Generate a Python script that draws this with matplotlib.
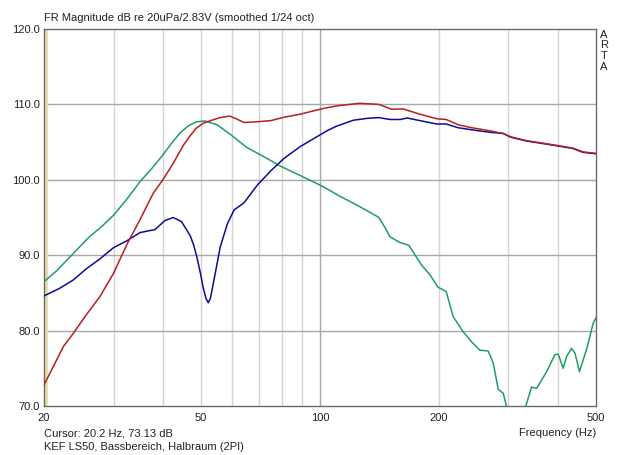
import matplotlib
matplotlib.use('Agg')
import matplotlib.pyplot as plt

plt.rcParams['font.family'] = ['Liberation Sans', 'DejaVu Sans']

# --- data (Hz, dB) ---
freq_green = [20, 21.5, 23.7, 26, 28, 30, 32.5, 35, 37.5, 40, 42, 44.2, 46.5, 48.7,
              51.1, 54.9, 59.7, 65.2, 73.3, 79.5, 91.3, 100, 105, 112, 121.4, 133.7,
              141, 147.4, 150.3, 159, 168, 180.7, 189.9, 199, 208.7, 217.4, 230.4,
              242.1, 254, 266.6, 274.6, 282.8, 291, 297, 312, 328, 333.4, 343.4,
              353.7, 375, 393.3, 401, 412.9, 421, 433.6, 442.5, 454, 474, 492, 500]
db_green = [86.5, 87.9, 90.2, 92.4, 93.8, 95.3, 97.5, 99.75, 101.5, 103.3, 104.8,
            106.2, 107.2, 107.7, 107.8, 107.3, 105.9, 104.3, 102.85, 101.8, 100.3,
            99.3, 98.7, 97.85, 96.9, 95.7, 95.0, 93.3, 92.45, 91.7, 91.3, 88.7, 87.4,
            85.75, 85.2, 81.85, 79.85, 78.5, 77.4, 77.3, 75.7, 72.2, 71.7, 69.9, 66.0,
            69.0, 70.3, 72.5, 72.35, 74.55, 76.8, 76.9, 75.0, 76.55, 77.65, 77.0,
            74.55, 77.65, 81.0, 81.7]

freq_blue = [20, 21.9, 23.7, 25.6, 27.7, 30, 32.4, 35, 38.2, 40.5, 42.5, 44.6, 46.9,
             47.9, 48.8, 49.8, 50.6, 51.4, 52.1, 52.8, 53.7, 55.9, 58.3, 60.6, 64.2,
             69.4, 75.1, 81.1, 89.1, 98.1, 105, 110, 121.4, 131.7, 141, 150.3, 159.8,
             166.2, 179.1, 197.5, 208.7, 224, 244.5, 269, 291, 304, 333, 367.5, 404.7,
             437, 463, 500]
db_blue = [84.6, 85.6, 86.7, 88.2, 89.5, 91.0, 91.9, 93.0, 93.4, 94.6, 95.0, 94.45,
           92.6, 91.3, 89.7, 87.6, 85.7, 84.3, 83.7, 84.3, 86.3, 91.1, 94.2, 96.0,
           96.95, 99.3, 101.2, 102.85, 104.4, 105.7, 106.6, 107.1, 107.9, 108.15,
           108.25, 108.0, 108.0, 108.2, 107.85, 107.4, 107.4, 106.9, 106.6, 106.3,
           106.15, 105.65, 105.15, 104.8, 104.45, 104.15, 103.65, 103.45]

freq_red = [20, 21.1, 22.4, 23.7, 25.6, 27.7, 30, 31.5, 32.7, 35, 37.8, 40, 42.5,
            45.1, 47, 48.5, 50.6, 53.2, 55.9, 59.1, 61, 64.2, 69.4, 75.1, 81.1, 89.1,
            98.1, 105, 112, 126.2, 141, 152, 162.3, 179, 197.5, 208.7, 224, 239.7,
            269.2, 291, 304, 333, 367.5, 404.7, 437, 463, 500]
db_red = [72.8, 75.2, 77.9, 79.6, 82.1, 84.5, 87.6, 90.0, 91.8, 94.7, 98.2, 100.0,
          102.2, 104.6, 105.9, 106.8, 107.5, 107.9, 108.25, 108.45, 108.15, 107.6,
          107.7, 107.85, 108.3, 108.7, 109.25, 109.6, 109.85, 110.15, 110.0, 109.35,
          109.4, 108.7, 108.1, 108.0, 107.3, 106.95, 106.5, 106.15, 105.7, 105.2,
          104.85, 104.5, 104.2, 103.7, 103.5]

x_ticks = [20, 50, 100, 200, 500]
x_grid = [30, 40, 50, 60, 70, 80, 90, 200, 300, 400]
y_ticks = [70, 80, 90, 100, 110, 120]

W, H = 640, 455
fig = plt.figure(figsize=(W / 100, H / 100), dpi=100)
ax = fig.add_axes([44 / W, 1 - 406 / H, (596 - 44) / W, (406 - 29) / H])
ax.set_xscale('log')
ax.set_xlim(20, 500)
ax.set_ylim(70, 120)

# grid
for f in x_grid:
    ax.axvline(f, color='#d4d4d4', lw=1.0, zorder=0)
ax.axvline(100, color='#a8a8a8', lw=1.0, zorder=0)
for v in y_ticks[1:-1]:
    ax.axhline(v, color='#a8a8a8', lw=1.0, zorder=0)

# cursor line
ax.axvline(20.2, color='#e6e0b0', lw=3, zorder=1)

ax.plot(freq_green, db_green, color='#1f9e63', lw=1.1, zorder=3)
ax.plot(freq_blue, db_blue, color='#0c0c98', lw=1.1, zorder=3)
ax.plot(freq_red, db_red, color='#b81e1e', lw=1.1, zorder=4)

ax.set_xticks(x_ticks)
ax.set_xticklabels([str(t) for t in x_ticks])
ax.xaxis.set_minor_locator(matplotlib.ticker.NullLocator())
ax.set_yticks(y_ticks)
ax.set_yticklabels(['%.1f' % t for t in y_ticks])
ax.tick_params(length=0, labelsize=8, colors='#222222')
ax.tick_params(axis='x', pad=5)
ax.tick_params(axis='y', pad=3)
for s in ax.spines.values():
    s.set_color('#6a6a6a')
    s.set_linewidth(1.0)

txt = dict(fontsize=8, color='#222222')
fig.text(44 / W, 1 - 18 / H, 'FR Magnitude dB re 20uPa/2.83V (smoothed 1/24 oct)',
         ha='left', va='center', **txt)
fig.text(44 / W, 1 - 433 / H, 'Cursor: 20.2 Hz, 73.13 dB', ha='left', va='center', **txt)
fig.text(44 / W, 1 - 447 / H, 'KEF LS50, Bassbereich, Halbraum (2PI)',
         ha='left', va='center', **txt)
fig.text(596 / W, 1 - 433 / H, 'Frequency (Hz)', ha='right', va='center', **txt)
for i, ch in enumerate('ARTA'):
    fig.text(604 / W, 1 - (35 + 10.5 * i) / H, ch, ha='center', va='center', **txt)

fig.savefig('out.png', dpi=100)
